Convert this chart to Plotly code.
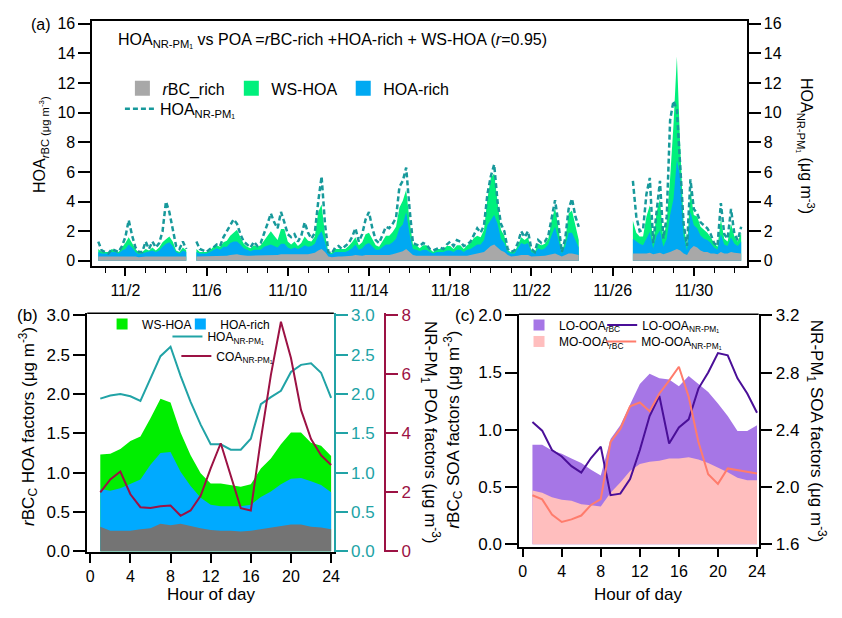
import numpy as np
import pandas as pd
import plotly.graph_objects as go

N = None
# ---------------- Panel (a): 4-hourly series starting 2019-10-31 16:00 ----------------
hoa_nrpm1 = [
    1.3, 0.7,
    0.6, 0.5, 0.8, 0.7, 0.6, 1.0,
    1.6, 2.75, 1.7, 0.9, 0.6, 0.6,
    1.3, 0.8, 1.3, 0.9, 1.2, 2.0,
    4.0, 3.3, 2.2, 1.0, 0.8, 1.3,
    0.8, N, N, 1.3, 0.8, 0.7,
    0.6, 0.8, 0.9, 1.1, 1.0, 1.6,
    2.0, 2.4, 2.8, 2.5, 1.8, 1.3,
    1.1, 0.9, 1.3, 1.0, 1.2, 1.8,
    2.5, 3.2, 2.6, 2.2, 3.3, 2.6,
    1.8, 1.6, 1.8, 1.3, 1.7, 2.6,
    1.9, 1.5, 1.9, 4.0, 5.7, 2.5,
    0.6, 0.5, 0.9, 1.0, 0.8, 1.0,
    1.2, 1.6, 2.2, 1.3, 1.8, 2.8,
    3.3, 2.2, 1.4, 1.2, 1.7, 2.3,
    2.2, 2.5, 2.9, 5.0, 5.4, 6.3,
    3.5, 1.2, 1.1, 1.0, 1.2, 1.1,
    0.8, 0.7, 0.8, 0.9, 0.8, 1.1,
    1.3, 1.0, 1.4, 1.3, 1.0, 1.1,
    1.3, 1.8, 2.2, 1.9, 2.4, 4.5,
    5.7, 6.5, 4.0, 2.5, 2.0, 0.8,
    0.6, 0.7, 1.2, 2.0, 1.6, 2.0,
    0.8, 0.6, 1.4, 1.2, 1.3, 1.7,
    3.0, 4.1, 2.5, 0.6, 1.5, 3.5,
    4.2, 3.0, 2.3, N, N, N,
    N, N, N, N, N, N,
    N, N, N, N, N, N,
    5.4, 3.0, 2.0, 2.1, 4.5, 5.6,
    1.2, 3.5, 5.4, 1.5, 3.0, 9.5,
    10.8, 10.2, 6.0, 2.5, 1.0, 5.5,
    3.5, 3.2, 2.6, 2.4, 2.2, 1.8,
    1.2, 1.0, 3.9, 1.8, 1.5, 3.5,
    1.8, 1.4, 2.3,
]
rbc_rich = [
    0.3, 0.3,
    0.3, 0.3, 0.3, 0.3, 0.3, 0.3,
    0.3, 0.35, 0.3, 0.3, 0.25, 0.3,
    0.3, 0.3, 0.3, 0.3, 0.3, 0.35,
    0.35, 0.35, 0.3, 0.3, 0.3, 0.3,
    0.3, N, N, 0.3, 0.3, 0.3,
    0.3, 0.3, 0.35, 0.35, 0.35, 0.35,
    0.35, 0.4, 0.45, 0.45, 0.4, 0.35,
    0.35, 0.35, 0.35, 0.35, 0.35, 0.35,
    0.4, 0.4, 0.4, 0.4, 0.45, 0.45,
    0.4, 0.4, 0.4, 0.4, 0.4, 0.45,
    0.45, 0.5, 0.55, 0.7, 0.8, 0.6,
    0.3, 0.25, 0.3, 0.3, 0.3, 0.3,
    0.3, 0.35, 0.4, 0.35, 0.35, 0.4,
    0.4, 0.4, 0.35, 0.35, 0.4, 0.4,
    0.4, 0.45, 0.5, 0.6, 0.65, 0.8,
    0.6, 0.4, 0.35, 0.35, 0.35, 0.35,
    0.3, 0.3, 0.3, 0.3, 0.3, 0.3,
    0.3, 0.3, 0.35, 0.35, 0.3, 0.35,
    0.4, 0.45, 0.5, 0.5, 0.6, 0.8,
    1.0, 1.1, 0.9, 0.7, 0.6, 0.4,
    0.3, 0.3, 0.35, 0.4, 0.4, 0.4,
    0.3, 0.3, 0.35, 0.35, 0.35, 0.4,
    0.45, 0.5, 0.4, 0.3, 0.4, 0.5,
    0.5, 0.45, 0.4, N, N, N,
    N, N, N, N, N, N,
    N, N, N, N, N, N,
    0.5, 0.5, 0.45, 0.45, 0.5, 0.55,
    0.45, 0.5, 0.55, 0.45, 0.5, 0.6,
    0.7, 0.8, 0.7, 0.5, 0.4, 0.8,
    1.0, 0.9, 0.7, 0.6, 0.6, 0.5,
    0.5, 0.45, 0.6, 0.5, 0.5, 0.6,
    0.55, 0.5, 0.5,
]
hoa_rich = [
    0.3, 0.2,
    0.2, 0.2, 0.3, 0.3, 0.2, 0.4,
    0.5, 0.75, 0.6, 0.3, 0.2, 0.2,
    0.3, 0.3, 0.4, 0.3, 0.4, 0.6,
    0.8, 0.9, 0.7, 0.3, 0.2, 0.4,
    0.3, N, N, 0.3, 0.2, 0.2,
    0.2, 0.3, 0.4, 0.5, 0.4, 0.6,
    0.6, 0.8, 0.85, 0.85, 0.7, 0.5,
    0.4, 0.3, 0.4, 0.4, 0.4, 0.6,
    0.6, 0.7, 0.6, 0.5, 0.7, 0.7,
    0.5, 0.4, 0.5, 0.4, 0.5, 0.6,
    0.5, 0.5, 0.6, 1.0, 1.2, 0.6,
    0.2, 0.2, 0.3, 0.3, 0.3, 0.3,
    0.4, 0.5, 0.7, 0.4, 0.5, 0.7,
    0.8, 0.6, 0.4, 0.4, 0.5, 0.7,
    0.7, 0.8, 1.0, 1.6, 1.8, 2.5,
    1.2, 0.4, 0.4, 0.3, 0.4, 0.4,
    0.3, 0.2, 0.3, 0.3, 0.3, 0.4,
    0.4, 0.3, 0.4, 0.4, 0.3, 0.4,
    0.4, 0.5, 0.6, 0.6, 0.8, 1.6,
    1.8, 2.0, 1.6, 0.8, 0.6, 0.2,
    0.2, 0.2, 0.5, 0.8, 0.7, 0.8,
    0.3, 0.2, 0.5, 0.4, 0.5, 0.7,
    1.3, 1.8, 1.0, 0.2, 0.6, 1.4,
    1.4, 1.0, 0.5, N, N, N,
    N, N, N, N, N, N,
    N, N, N, N, N, N,
    1.0, 0.8, 0.7, 0.6, 1.0, 1.4,
    0.4, 1.2, 1.5, 0.5, 1.0, 2.5,
    3.5, 6.0, 5.0, 1.2, 0.3, 2.5,
    1.4, 1.3, 1.0, 0.9, 0.8, 0.7,
    0.4, 0.3, 1.2, 0.6, 0.5, 1.0,
    0.6, 0.5, 0.8,
]
ws_hoa = [
    0.2, 0.1,
    0.1, 0.1, 0.2, 0.1, 0.1, 0.2,
    0.4, 0.5, 0.3, 0.2, 0.1, 0.1,
    0.2, 0.1, 0.2, 0.1, 0.2, 0.3,
    0.3, 0.4, 0.3, 0.1, 0.1, 0.2,
    0.1, N, N, 0.2, 0.1, 0.1,
    0.1, 0.1, 0.2, 0.2, 0.2, 0.3,
    0.4, 0.5, 0.6, 0.8, 0.5, 0.3,
    0.2, 0.2, 0.3, 0.2, 0.3, 0.4,
    0.7, 0.9, 0.7, 0.5, 1.0, 1.0,
    0.4, 0.3, 0.4, 0.2, 0.3, 0.6,
    0.4, 0.3, 0.5, 1.6, 1.8, 0.6,
    0.1, 0.1, 0.2, 0.2, 0.2, 0.2,
    0.3, 0.4, 0.5, 0.3, 0.4, 0.7,
    0.7, 0.5, 0.3, 0.2, 0.4, 0.6,
    0.6, 0.7, 0.8, 1.4, 1.6, 1.5,
    0.9, 0.3, 0.3, 0.2, 0.3, 0.3,
    0.2, 0.1, 0.2, 0.2, 0.2, 0.3,
    0.3, 0.2, 0.3, 0.3, 0.2, 0.3,
    0.4, 0.6, 0.6, 0.5, 0.7, 1.8,
    2.8, 2.8, 1.5, 0.6, 0.5, 0.1,
    0.1, 0.1, 0.2, 0.4, 0.3, 0.4,
    0.1, 0.1, 0.3, 0.3, 0.3, 0.4,
    1.0, 1.3, 0.8, 0.1, 0.4, 1.3,
    1.5, 1.0, 0.5, N, N, N,
    N, N, N, N, N, N,
    N, N, N, N, N, N,
    1.2, 0.6, 0.5, 0.6, 1.5, 1.8,
    0.3, 1.6, 2.1, 0.5, 1.2, 2.5,
    5.0, 7.0, 2.0, 0.8, 0.2, 1.5,
    0.7, 0.8, 0.6, 0.6, 0.5, 0.4,
    0.3, 0.2, 1.0, 0.4, 0.3, 0.9,
    0.5, 0.3, 0.6,
]
a_start = "2019-10-31 16:00"
a_tick0 = "2019-11-02"

# ---------------- Panel (b): diurnal HOA ----------------
hours = list(range(1, 25))
b_rbc = [0.31, 0.26, 0.26, 0.26, 0.28, 0.29, 0.35, 0.33, 0.35, 0.32, 0.29, 0.27,
         0.26, 0.26, 0.25, 0.26, 0.28, 0.30, 0.32, 0.34, 0.34, 0.31, 0.30, 0.28]
b_hoa_rich = [0.48, 0.51, 0.54, 0.60, 0.63, 0.81, 0.90, 0.93, 0.66, 0.51, 0.39, 0.32,
              0.31, 0.31, 0.32, 0.33, 0.41, 0.46, 0.53, 0.58, 0.59, 0.58, 0.54, 0.47]
b_ws_hoa = [0.44, 0.47, 0.50, 0.54, 0.55, 0.59, 0.69, 0.63, 0.50, 0.39, 0.31, 0.27,
            0.29, 0.27, 0.25, 0.26, 0.36, 0.42, 0.51, 0.59, 0.58, 0.49, 0.50, 0.46]
b_hoa_nrpm1 = [1.94, 1.98, 2.00, 1.97, 1.91, 2.19, 2.48, 2.60, 2.23, 1.90, 1.61, 1.36,
               1.36, 1.29, 1.29, 1.43, 1.87, 1.96, 2.04, 2.28, 2.37, 2.39, 2.27, 1.95]
b_coa_nrpm1 = [1.99, 2.43, 2.70, 1.93, 1.49, 1.46, 1.52, 1.55, 1.20, 1.38, 1.88, 2.81,
               3.66, 2.59, 1.46, 1.38, 3.80, 5.98, 7.78, 6.55, 4.79, 3.80, 3.25, 2.92]

# ---------------- Panel (c): diurnal SOA ----------------
c_mo_ooa_rbc = [0.47, 0.45, 0.41, 0.39, 0.38, 0.35, 0.34, 0.33, 0.45, 0.54, 0.64, 0.70,
                0.72, 0.73, 0.75, 0.75, 0.76, 0.74, 0.71, 0.67, 0.63, 0.58, 0.56, 0.56]
c_lo_ooa_rbc = [0.40, 0.42, 0.41, 0.40, 0.37, 0.36, 0.31, 0.27, 0.47, 0.50, 0.58, 0.70,
                0.77, 0.72, 0.69, 0.63, 0.71, 0.66, 0.62, 0.56, 0.49, 0.41, 0.43, 0.48]
c_lo_ooa_nrpm1 = [2.455, 2.394, 2.259, 2.214, 2.146, 2.101, 2.203, 2.282, 1.943, 1.954, 2.056, 2.259,
                  2.496, 2.636, 2.304, 2.417, 2.473, 2.688, 2.801, 2.936, 2.920, 2.760, 2.654, 2.519]
c_mo_ooa_nrpm1 = [1.943, 1.914, 1.808, 1.756, 1.774, 1.801, 1.875, 1.916, 2.315, 2.406, 2.564, 2.591,
                  2.530, 2.654, 2.744, 2.841, 2.631, 2.315, 2.090, 2.022, 2.130, 2.117, 2.108, 2.094]

# ---------------- styling ----------------
FONT = "Liberation Sans, Arial, sans-serif"
OFF = 8                      # default page body margin
W, H = 842 - 2 * OFF, 618 - 2 * OFF   # figure + margins fits the 842x618 window exactly


def px(x):
    return (x - OFF) / W


def py(y):
    return 1 - (y - OFF) / H


def arr(v):
    return np.array([np.nan if e is None else e for e in v], dtype=float)


def runs(mask):
    out, start = [], None
    for i, ok in enumerate(mask):
        if ok and start is None:
            start = i
        if not ok and start is not None:
            out.append((start, i))
            start = None
    if start is not None:
        out.append((start, len(mask)))
    return out


A_GRAY, A_GREEN, A_BLUE, A_TEAL = "#a8a8a8", "#00f07c", "#00a9f2", "#17999b"
B_GRAY, B_GREEN, B_BLUE, B_TEAL, B_MAROON = "#747474", "#00ee00", "#00aaff", "#21a3a6", "#9c1244"
C_PURPLE, C_PINK, C_DPURPLE, C_SALMON = "#a676e6", "#ffbebe", "#4a0f98", "#ff7c6c"

fig = go.Figure()
legends = {}
leg_count = [0]


def new_legend(x, y, size):
    leg_count[0] += 1
    key = "legend" if leg_count[0] == 1 else "legend%d" % leg_count[0]
    legends[key] = dict(bgcolor="rgba(0,0,0,0)", borderwidth=0, xanchor="left", yanchor="top",
                        orientation="h", itemwidth=30, tracegroupgap=0, itemclick=False,
                        x=px(x), y=py(y), font=dict(family=FONT, size=size, color="black"))
    return key


def swatch(name, col, size, xa, ya, legend):
    fig.add_trace(go.Scatter(x=[None], y=[None], mode="markers", name=name, legend=legend,
                             marker=dict(symbol="square", size=size, color=col),
                             xaxis=xa, yaxis=ya))


# ---- panel (a)
t_a = pd.date_range(a_start, periods=len(hoa_nrpm1), freq="4h")
a_g = arr(rbc_rich)
a_b = a_g + arr(hoa_rich)
a_t = a_b + arr(ws_hoa)
segs = runs(~np.isnan(a_t))
for yy, col in [(a_t, A_GREEN), (a_b, A_BLUE), (a_g, A_GRAY)]:
    for s, e in segs:
        fig.add_trace(go.Scatter(x=t_a[s:e], y=yy[s:e], mode="lines", fill="tozeroy", fillcolor=col,
                                 line=dict(width=0, color=col), showlegend=False,
                                 xaxis="x", yaxis="y", hoverinfo="skip"))
swatch("<i>r</i>BC_rich", A_GRAY, 15, "x", "y", new_legend(122.5, 65, 16))
swatch("WS-HOA", A_GREEN, 15, "x", "y", new_legend(232.5, 65, 16))
swatch("HOA-rich", A_BLUE, 15, "x", "y", new_legend(345.5, 65, 16))
fig.add_trace(go.Scatter(x=t_a, y=arr(hoa_nrpm1), mode="lines",
                         line=dict(color=A_TEAL, width=2.5, dash="5px,3px"),
                         name="HOA<sub>NR-PM₁</sub>", legend=new_legend(120, 86, 16),
                         xaxis="x", yaxis="y2", connectgaps=False))

# ---- panel (b)
b_g = arr(b_rbc)
b_b = b_g + arr(b_hoa_rich)
b_t = b_b + arr(b_ws_hoa)
for yy, col in [(b_t, B_GREEN), (b_b, B_BLUE), (b_g, B_GRAY)]:
    fig.add_trace(go.Scatter(x=hours, y=yy, mode="lines", fill="tozeroy", fillcolor=col,
                             line=dict(width=0, color=col), showlegend=False,
                             xaxis="x2", yaxis="y3", hoverinfo="skip"))
swatch("WS-HOA", B_GREEN, 11, "x2", "y3", new_legend(102, 310, 12))
swatch("HOA-rich", B_BLUE, 11, "x2", "y3", new_legend(181, 310, 12))
fig.add_trace(go.Scatter(x=hours, y=b_hoa_nrpm1, mode="lines", line=dict(color=B_TEAL, width=2),
                         name="HOA<sub>NR-PM₁</sub>", legend=new_legend(168, 323, 12),
                         xaxis="x2", yaxis="y4"))
fig.add_trace(go.Scatter(x=hours, y=b_coa_nrpm1, mode="lines", line=dict(color=B_MAROON, width=2),
                         name="COA<sub>NR-PM₁</sub>", legend=new_legend(177, 343, 12),
                         xaxis="x2", yaxis="y5"))

# ---- panel (c)
c_p = arr(c_mo_ooa_rbc)
c_t = c_p + arr(c_lo_ooa_rbc)
fig.add_trace(go.Scatter(x=hours, y=c_t, mode="lines", fill="tozeroy", fillcolor=C_PURPLE,
                         line=dict(width=0, color=C_PURPLE), showlegend=False,
                         xaxis="x3", yaxis="y6", hoverinfo="skip"))
fig.add_trace(go.Scatter(x=hours, y=c_p, mode="lines", fill="tozeroy", fillcolor=C_PINK,
                         line=dict(width=0, color=C_PINK), showlegend=False,
                         xaxis="x3", yaxis="y6", hoverinfo="skip"))
swatch("LO-OOA<sub><i>r</i>BC</sub>", C_PURPLE, 11, "x3", "y6", new_legend(523, 311, 12))
fig.add_trace(go.Scatter(x=hours, y=c_lo_ooa_nrpm1, mode="lines", line=dict(color=C_DPURPLE, width=2),
                         name="LO-OOA<sub>NR-PM₁</sub>", legend=new_legend(607, 311, 12),
                         xaxis="x3", yaxis="y7"))
swatch("MO-OOA<sub><i>r</i>BC</sub>", C_PINK, 11, "x3", "y6", new_legend(523, 328, 12))
fig.add_trace(go.Scatter(x=hours, y=c_mo_ooa_nrpm1, mode="lines", line=dict(color=C_SALMON, width=2),
                         name="MO-OOA<sub>NR-PM₁</sub>", legend=new_legend(606, 328, 12),
                         xaxis="x3", yaxis="y7"))

tickfont = dict(family=FONT, size=16, color="black")
common = dict(showgrid=False, zeroline=False, showline=True, linecolor="black", linewidth=1.5,
              ticks="outside", ticklen=12, tickwidth=1.5, tickcolor="black", tickfont=tickfont)

layout = dict(
    width=W, height=H, margin=dict(l=0, r=0, t=0, b=0),
    paper_bgcolor="white", plot_bgcolor="rgba(0,0,0,0)",
    hovermode=False, font=dict(family=FONT, size=16, color="black"),
    # panel a
    xaxis=dict(common, domain=[px(92), px(753)], anchor="y", type="date",
               range=["2019-10-31 08:48", "2019-12-02 14:38"],
               tick0=a_tick0, dtick=4 * 86400000, tickformat="%-m/%-d",
               ticklen=9, mirror=True,
               minor=dict(ticks="outside", ticklen=6, dtick=86400000, tick0="2019-11-01",
                          tickcolor="black", tickwidth=1.2)),
    yaxis=dict(common, domain=[py(265), py(13)], anchor="x", range=[-0.33, 16.2], dtick=2,
               mirror=True),
    yaxis2=dict(common, overlaying="y", anchor="x", side="right", range=[-0.33, 16.2], dtick=2),
    # panel b
    xaxis2=dict(common, domain=[px(87), px(336)], anchor="y3", range=[-0.3, 24.27], ticklen=9,
                tickvals=[0, 4, 8, 12, 16, 20, 24]),
    yaxis3=dict(common, domain=[py(560), py(314)], anchor="x2", range=[-0.016, 3.025],
                tickvals=[0, 0.5, 1, 1.5, 2, 2.5, 3], tickformat=".1f",
                tickfont=dict(family=FONT, size=17)),
    yaxis4=dict(common, overlaying="y3", anchor="x2", side="right", range=[-0.016, 3.025],
                tickvals=[0, 0.5, 1, 1.5, 2, 2.5, 3], tickformat=".1f",
                linecolor=B_TEAL, tickcolor=B_TEAL, tickfont=dict(family=FONT, size=17, color=B_TEAL)),
    yaxis5=dict(common, overlaying="y3", anchor="free", position=px(388), side="right",
                range=[-0.043, 8.066], tickvals=[0, 2, 4, 6, 8],
                linecolor=B_MAROON, tickcolor=B_MAROON, tickfont=dict(family=FONT, size=17, color=B_MAROON)),
    # panel c
    xaxis3=dict(common, domain=[px(523), px(765)], anchor="y6", range=[-0.375, 24.17], ticklen=9,
                tickvals=[0, 4, 8, 12, 16, 20, 24]),
    yaxis6=dict(common, domain=[py(554), py(315)], anchor="x3", range=[-0.02, 2.008],
                tickvals=[0, 0.5, 1, 1.5, 2], tickformat=".1f", tickfont=dict(family=FONT, size=17)),
    yaxis7=dict(common, overlaying="y6", anchor="x3", side="right", range=[1.584, 3.207],
                tickvals=[1.6, 2.0, 2.4, 2.8, 3.2], tickformat=".1f", tickfont=dict(family=FONT, size=17)),
)
layout.update(legends)
fig.update_layout(**layout)

# frame lines for panels b and c (top edges)
for x0, x1, y0 in [(87, 336, 314), (523, 765, 315)]:
    fig.add_shape(type="line", xref="paper", yref="paper", x0=px(x0), x1=px(x1), y0=py(y0), y1=py(y0),
                  line=dict(color="black", width=1.5), layer="above")


def ann(text, x, y, size=16, angle=0, color="black", xanchor="center"):
    fig.add_annotation(text=text, x=px(x), y=py(y), xref="paper", yref="paper", showarrow=False,
                       textangle=angle, xanchor=xanchor, yanchor="middle",
                       font=dict(family=FONT, size=size, color=color))


ann("(a)", 40, 17)
ann("HOA<sub>NR-PM₁</sub> vs POA =<i>r</i>BC-rich +HOA-rich + WS-HOA (<i>r</i>=0.95)", 116, 33, xanchor="left")
ann("HOA<sub><i>r</i>BC (μg m<sup>-3</sup>)</sub>", 40, 140, angle=-90)
ann("HOA<sub>NR-PM₁</sub> (μg m<sup>-3</sup>)", 813, 142, angle=90)
ann("(b)", 27, 316, size=17)
ann("<i>r</i>BC<sub>C</sub> HOA factors (μg m<sup>-3</sup>)", 27, 430, size=17, angle=-90)
ann("NR-PM<sub>1</sub> POA factors (μg m<sup>-3</sup>)", 433, 437, size=17, angle=90)
ann("Hour of day", 212, 603, size=17)
ann("(c)", 468, 316, size=17)
ann("<i>r</i>BC<sub>C</sub> SOA factors (μg m<sup>-3</sup>)", 457, 434, size=17, angle=-90)
ann("NR-PM<sub>1</sub> SOA factors (μg m<sup>-3</sup>)", 823, 435, size=17, angle=90)
ann("Hour of day", 643, 603, size=17)

fig.write_html("out.html")
